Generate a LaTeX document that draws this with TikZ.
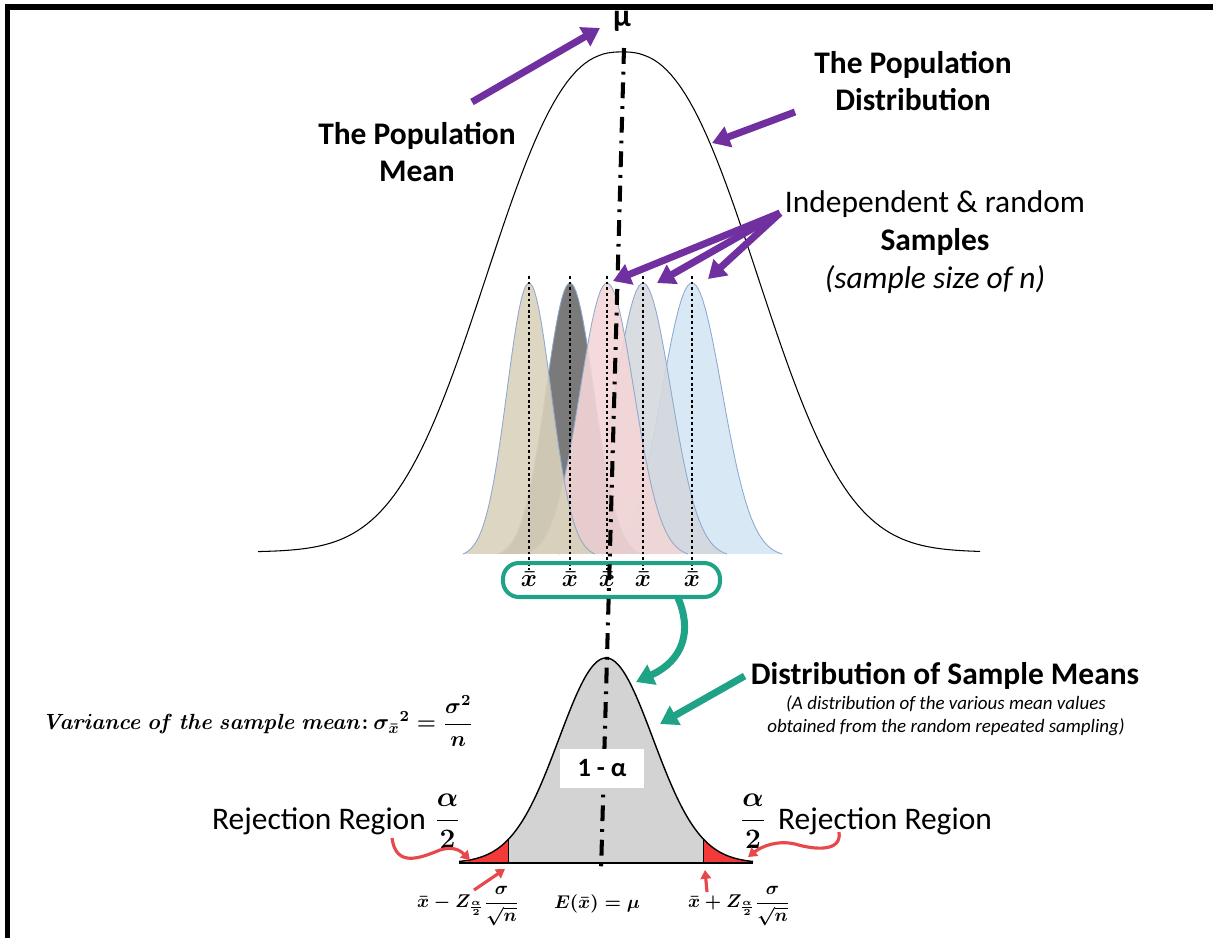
\RequirePackage{fix-cm}
\documentclass[tikz,border=0pt]{standalone}
\usepackage{amsmath,amssymb}
\usepackage[no-math]{fontspec}
\setmainfont{Carlito}
\usetikzlibrary{arrows.meta,positioning}
\definecolor{arrowpurple}{HTML}{7030A0}
\definecolor{meanteal}{HTML}{1FA386}
\definecolor{rejred}{HTML}{F23A3A}
\definecolor{wavered}{HTML}{E8474C}
\definecolor{sampletan}{HTML}{D8D1BB}
\definecolor{sampledark}{HTML}{6B6B6D}
\definecolor{samplepink}{HTML}{F3D6D6}
\definecolor{samplegrey}{HTML}{D5D8DE}
\definecolor{sampleblue}{HTML}{D4E7F4}
\definecolor{sampleedge}{HTML}{8FA9CF}
\definecolor{meangrey}{HTML}{D3D3D3}
\newcommand{\bigfont}{\fontsize{17.9}{21.5}\selectfont}
\newcommand{\notefont}{\fontsize{10.8}{13}\selectfont}

\begin{document}
\begin{tikzpicture}[x=0.02cm,y=-0.02cm,
  heading/.style={font=\bigfont\bfseries,align=center},
  plaintext/.style={font=\bigfont,align=center},
  note/.style={font=\notefont\itshape,align=center},
  formula/.style={font=\boldmath\fontsize{10.5}{12}\selectfont,inner sep=0pt},
  fraction/.style={font=\boldmath\fontsize{16}{18}\selectfont},
  sampleline/.style={black,line width=1.6pt,dash pattern=on 1.6pt off 1.6pt},
  meanaxis/.style={black,line width=2.3pt,dash pattern=on 9pt off 4.5pt on 1.6pt off 4.5pt},
  purplearrow/.style={-{Triangle[length=10pt,width=12pt]},arrowpurple,line width=4pt},
  tealarrow/.style={-{Triangle[length=10pt,width=12pt]},meanteal,line width=4pt},
  redarrow/.style={-{Triangle[length=5pt,width=6pt]},wavered,line width=1.8pt}]
  \useasboundingbox (0,0) rectangle (1213,938);
  \fill (5,4) rectangle (1213,10);
  \fill (5,4) rectangle (10,938);

  % population curve
  \draw[line width=0.6pt,domain=-364:358,samples=160]
    plot ({622+\x},{552-500*exp(-((abs(\x)+0.01)/167)^2.5)});

  % the samples
  \foreach \c/\col/\s in {692/sampleblue/30,643/samplegrey/28,570/sampledark/24,607/samplepink/27,529/sampletan/22}{
    \fill[\col,fill opacity=0.9] plot[domain=-3*\s:3*\s,samples=60]
      ({\c+\x},{557-274*exp(-0.5*(\x/\s)*(\x/\s))}) -- cycle;
    \draw[sampleedge,line width=0.5pt] plot[domain=-3*\s:3*\s,samples=60]
      ({\c+\x},{557-274*exp(-0.5*(\x/\s)*(\x/\s))});
  }
  \foreach \px [count=\i] in {529,570,607,643,692}{
    \node[formula,font=\boldmath\fontsize{14}{16}\selectfont,inner sep=1pt] (xbar\i) at (\px,579) {$\bar{x}$};
    \draw[sampleline] (\px,276) -- (xbar\i.north);
  }
  \node[draw=meanteal,line width=2.3pt,rounded corners=9pt,minimum width=4.34cm,
    minimum height=0.68cm] (meanbox) at (611.5,580) {};

  % distribution of the sample means
  \fill[meangrey] plot[domain=-97.5:97.5,samples=80] ({606+\x},{863-205*exp(-0.5*(\x/47)*(\x/47))})
    -- (703.5,863) -- (508.5,863) -- cycle;
  \fill[rejred] plot[domain=-147:-97.5,samples=30] ({606+\x},{863-205*exp(-0.5*(\x/47)*(\x/47))})
    -- (508.5,863) -- cycle;
  \fill[rejred] plot[domain=97.5:147,samples=30] ({606+\x},{863-205*exp(-0.5*(\x/47)*(\x/47))})
    -- (753,863) -- (703.5,863) -- cycle;
  \draw[line width=0.8pt] plot[domain=-147:147,samples=150] ({606+\x},{863-205*exp(-0.5*(\x/47)*(\x/47))});
  \draw[line width=1.1pt] (459,863) -- (753,863);
  \draw[line width=1pt] (508.5,863) -- (508.5,839);
  \draw[line width=1pt] (703.5,863) -- (703.5,839);

  \draw[meanaxis] (624,48) -- (601,872);
  \node[fill=white,minimum width=1.68cm,minimum height=0.78cm,font=\fontsize{15}{17}\selectfont\bfseries]
    (oneminus) at (602,768) {1 - α};

  % labels
  \node[heading] (mu) at (622,21) {μ};
  \node[heading] (popmean) at (417,152) {The Population\\Mean};
  \node[heading] (popdist) at (913,81) {The Population\\Distribution};
  \node[plaintext] (samples) at (935,242) {Independent \& random\\\textbf{Samples}\\\textit{(sample size of n)}};
  \node[heading] (meansdist) at (945,676) {Distribution of Sample Means};
  \node[note] (meansnote) at (946,716) {(A distribution of the various mean values\\obtained from the random repeated sampling)};
  \node[anchor=west,font=\boldmath\fontsize{12.5}{15}\selectfont] (variance) at (36,721)
    {$\mathit{Variance\ of\ the\ sample\ mean}{:}\ \sigma_{\bar{x}}{}^{2} = \dfrac{\sigma^{2}}{n}$};
  \node[plaintext] (rejleft) at (319,821) {Rejection Region};
  \node[fraction,right=-2pt of rejleft] (halfleft) {$\dfrac{\alpha}{2}$};
  \node[plaintext] (rejright) at (885,821) {Rejection Region};
  \node[fraction,left=0pt of rejright] (halfright) {$\dfrac{\alpha}{2}$};
  \node[formula] (lowlimit) at (468,906) {$\bar{x} - Z_{\frac{\alpha}{2}}\dfrac{\sigma}{\sqrt{n}}$};
  \node[formula] (expect) at (597,904) {$E(\bar{x}) = \mu$};
  \node[formula] (uplimit) at (739,906) {$\bar{x} + Z_{\frac{\alpha}{2}}\dfrac{\sigma}{\sqrt{n}}$};

  % arrows
  \coordinate (meantail) at (472,102);
  \coordinate (meantip) at (600,28);
  \coordinate (disttail) at (795,112);
  \coordinate (disttip) at (712,143);
  \coordinate (sampletail) at (780,213);
  \draw[purplearrow] (meantail) -- (meantip);
  \draw[purplearrow] (disttail) -- (disttip);
  \foreach \tx/\ty in {613/281,657/283,708/279}
    \draw[purplearrow] (sampletail) -- (\tx,\ty);

  \coordinate (boxexit) at (678,598);
  \coordinate (peakhit) at (636,682);
  \coordinate (flankhit) at (660,724);
  \draw[tealarrow] (boxexit) .. controls (692,630) and (684,660) .. (peakhit);
  \draw[tealarrow] (meansdist.west) -- (flankhit);

  \coordinate (wavelstart) at (392,838);
  \coordinate (wavelend) at (470,860);
  \coordinate (wavestart) at (839,832);
  \coordinate (waveend) at (748,857);
  \coordinate (lowtail) at (474,890);
  \coordinate (lowtip) at (505,869);
  \coordinate (uptail) at (707,892);
  \coordinate (uptip) at (705,870);
  \draw[redarrow] (wavelstart) .. controls (396,868) and (420,858) .. (440,850)
    .. controls (452,846) and (460,850) .. (wavelend);
  \draw[redarrow] (wavestart) .. controls (842,852) and (815,850) .. (795,844)
    .. controls (778,840) and (762,846) .. (waveend);
  \draw[redarrow] (lowtail) -- (lowtip);
  \draw[redarrow] (uptail) -- (uptip);
\end{tikzpicture}
\end{document}
